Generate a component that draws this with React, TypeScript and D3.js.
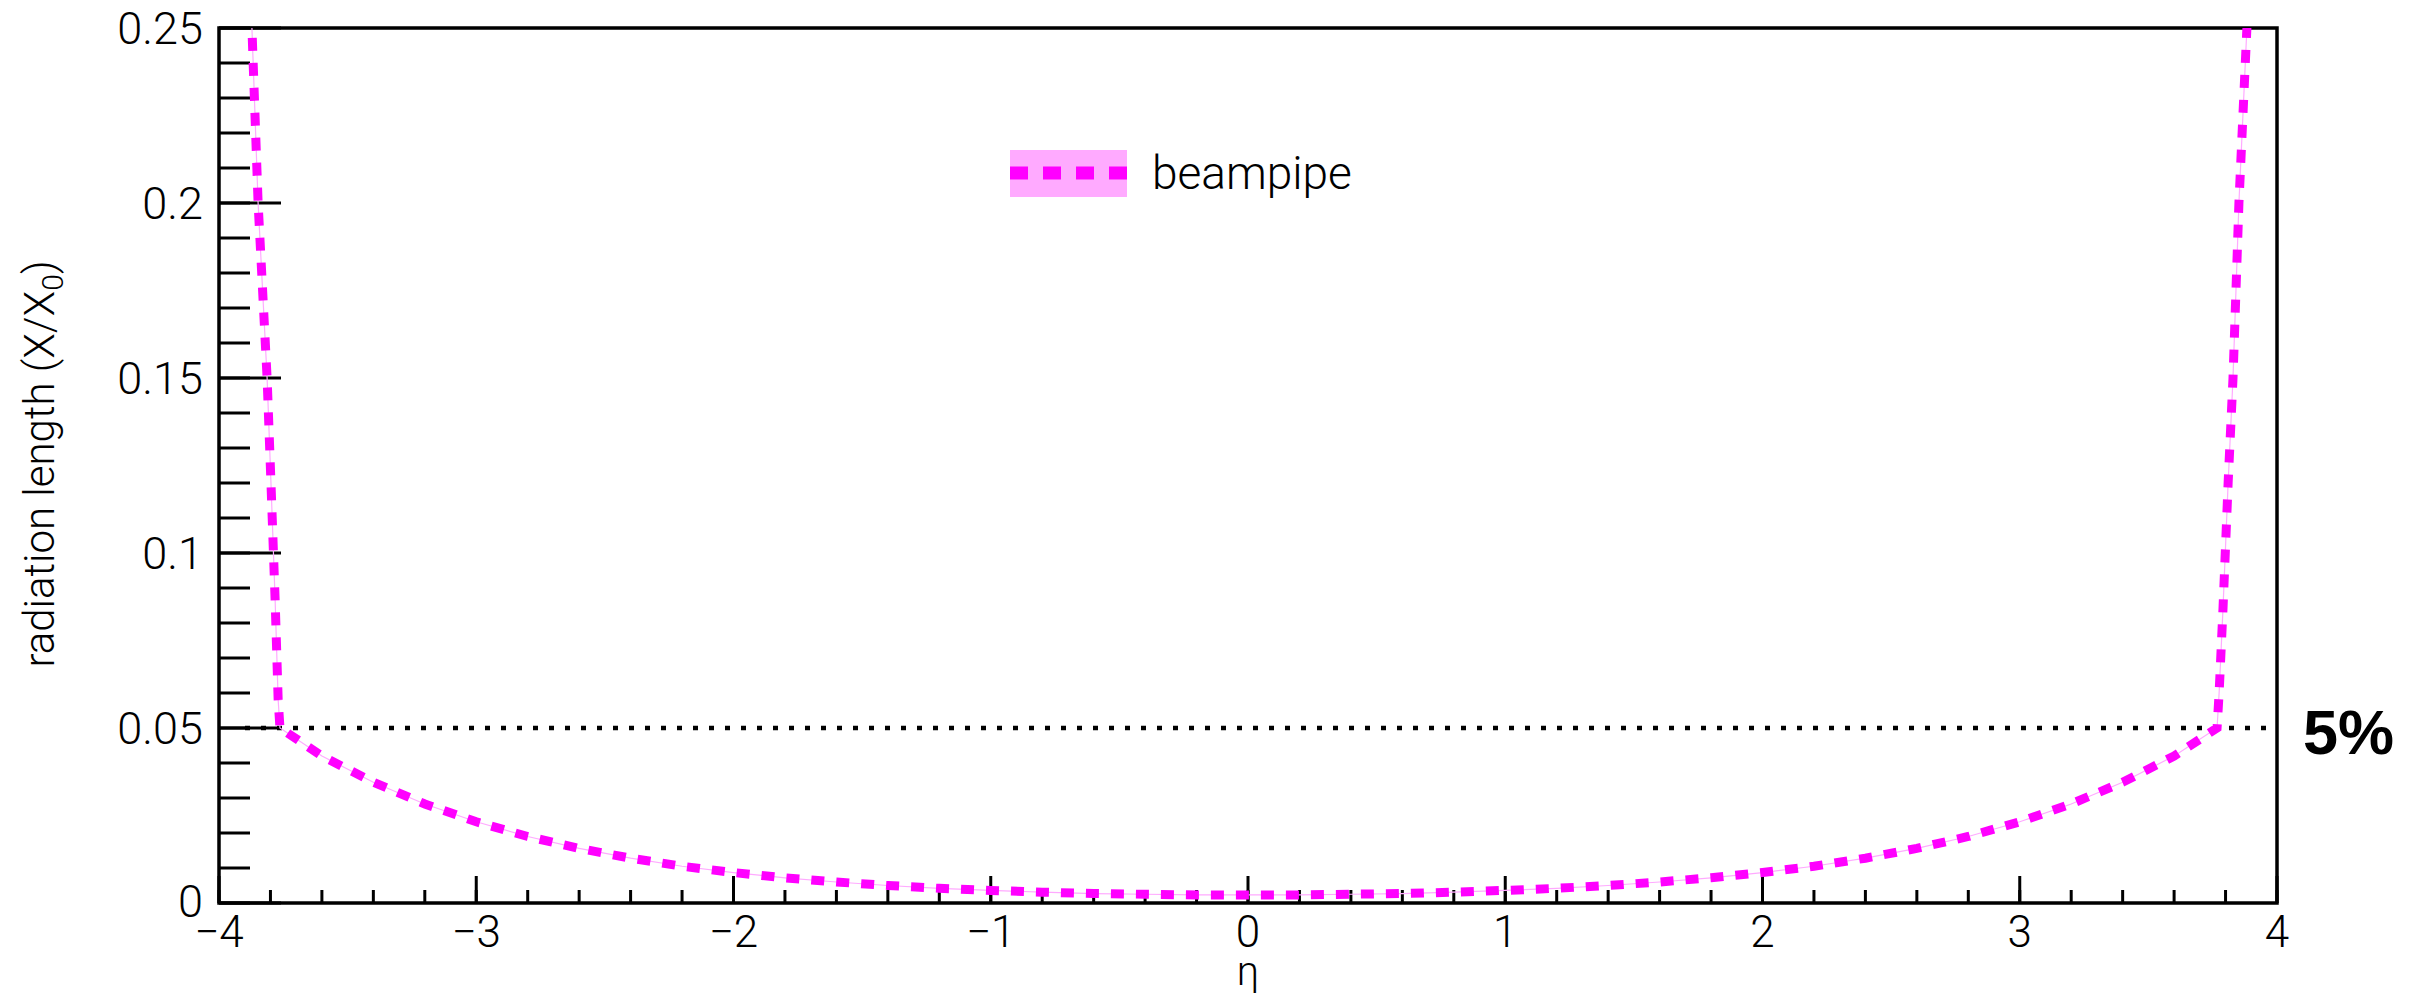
import React from 'react'
import * as d3 from 'd3'

// eta positions and radiation length
const etaValues = [
  -3.9, -3.872, -3.848, -3.813, -3.798, -3.782, -3.77, -3.763,
  -3.6, -3.4, -3.2, -3.0, -2.8, -2.6, -2.4, -2.2, -2.0, -1.8, -1.6, -1.4, -1.2, -1.0,
  -0.8, -0.6, -0.4, -0.2, 0, 0.2, 0.4, 0.6, 0.8,
  1.0, 1.2, 1.4, 1.6, 1.8, 2.0, 2.2, 2.4, 2.6, 2.8, 3.0, 3.2, 3.4, 3.6,
  3.767, 3.775, 3.79, 3.81, 3.829, 3.852, 3.883, 3.91,
]
const beampipe = [
  0.29, 0.25, 0.2, 0.15, 0.12, 0.087, 0.058, 0.05,
  0.042, 0.0345, 0.0283, 0.0232, 0.019, 0.0156, 0.0128, 0.0105, 0.0087, 0.0072, 0.006, 0.005, 0.0042, 0.0036,
  0.0031, 0.0027, 0.0025, 0.0023, 0.0023, 0.0023, 0.0025, 0.0027, 0.0031,
  0.0036, 0.0042, 0.005, 0.006, 0.0072, 0.0087, 0.0105, 0.0128, 0.0156, 0.019, 0.0232, 0.0283, 0.0345, 0.042,
  0.05, 0.06, 0.084, 0.12, 0.15, 0.2, 0.25, 0.29,
]

const xTicks = [-4, -3, -2, -1, 0, 1, 2, 3, 4]
const xTickLabels = ['\u22124', '\u22123', '\u22122', '\u22121', '0', '1', '2', '3', '4']
const yTicks = [0, 0.05, 0.1, 0.15, 0.2, 0.25]
const yTickLabels = ['0', '0.05', '0.1', '0.15', '0.2', '0.25']
const threshold = 0.05

const left = 219
const right = 2277
const top = 28
const bottom = 903
const font = 'Roboto, "Liberation Sans", sans-serif'

const App = () => {
  const x = d3.scaleLinear().domain([-4, 4]).range([left, right])
  const y = d3.scaleLinear().domain([0, 0.25]).range([bottom, top])

  const points = etaValues.map((e, i) => [e, beampipe[i]] as [number, number])
  const line = d3.line<[number, number]>()
    .x(d => x(d[0]))
    .y(d => y(d[1]))
  const path = line(points) || ''

  const xMinor = x.ticks(40)
  const yMinor = y.ticks(25)

  return (
    <svg width={2429} height={1000} style={{ position: 'absolute', left: 0, top: 0, background: '#fff' }}>
      <defs>
        <clipPath id="frame">
          <rect x={left} y={top} width={right - left} height={bottom - top} />
        </clipPath>
      </defs>

      {/* frame */}
      <rect x={left} y={top} width={right - left} height={bottom - top} fill="none" stroke="#000" strokeWidth={3.5} />

      {/* y ticks */}
      {yMinor.map((v, i) => (
        <line key={'ym' + i} x1={left} x2={left + 31} y1={y(v)} y2={y(v)} stroke="#000" strokeWidth={3} />
      ))}
      {yTicks.map((v, i) => (
        <line key={'yM' + i} x1={left} x2={left + 62} y1={y(v)} y2={y(v)} stroke="#000" strokeWidth={3} />
      ))}
      {yTicks.map((v, i) => (
        <text key={'yl' + i} x={203} y={y(v)} dy={i === 0 ? '0.3em' : '0.36em'} textAnchor="end"
          fontFamily={font} fontWeight={300} fontSize={45}>{yTickLabels[i]}</text>
      ))}

      {/* x ticks */}
      {xMinor.map((v, i) => (
        <line key={'xm' + i} x1={x(v)} x2={x(v)} y1={bottom} y2={bottom - 13} stroke="#000" strokeWidth={3} />
      ))}
      {xTicks.map((v, i) => (
        <line key={'xM' + i} x1={x(v)} x2={x(v)} y1={bottom} y2={bottom - 27} stroke="#000" strokeWidth={3} />
      ))}
      {xTicks.map((v, i) => (
        <text key={'xl' + i} x={x(v)} y={947} textAnchor="middle"
          fontFamily={font} fontWeight={300} fontSize={44}>{xTickLabels[i]}</text>
      ))}

      {/* axis titles */}
      <text x={x(0)} y={985} textAnchor="middle" fontFamily={font} fontWeight={300} fontSize={40}>η</text>
      <text transform="translate(54,464) rotate(-90)" textAnchor="middle" fontFamily={font} fontWeight={300} fontSize={42}>
        radiation length (X/X<tspan fontSize={30} dy={9}>0</tspan><tspan dy={-9}>)</tspan>
      </text>

      {/* 5% threshold */}
      <line x1={245} x2={2268} y1={y(threshold)} y2={y(threshold)} stroke="#000" strokeWidth={4.5} strokeDasharray="5,11" />
      <text x={2303} y={754} fontFamily={'"Liberation Sans", Arial, sans-serif'} fontWeight={700} fontSize={63}>5%</text>

      {/* beampipe curve */}
      <g clipPath="url(#frame)">
        <path d={path} fill="none" stroke="#ffaaff" strokeWidth={1.2} />
        <path d={path} fill="none" stroke="#ff00ff" strokeWidth={9} strokeDasharray="13,12" />
      </g>

      {/* legend */}
      <rect x={1010} y={150} width={117} height={47} fill="#ffaaff" />
      <line x1={1010} x2={1127} y1={173} y2={173} stroke="#ff00ff" strokeWidth={13} strokeDasharray="18,15" />
      <text x={1152} y={189} fontFamily={font} fontWeight={300} fontSize={46}>beampipe</text>
    </svg>
  )
}

export default App
